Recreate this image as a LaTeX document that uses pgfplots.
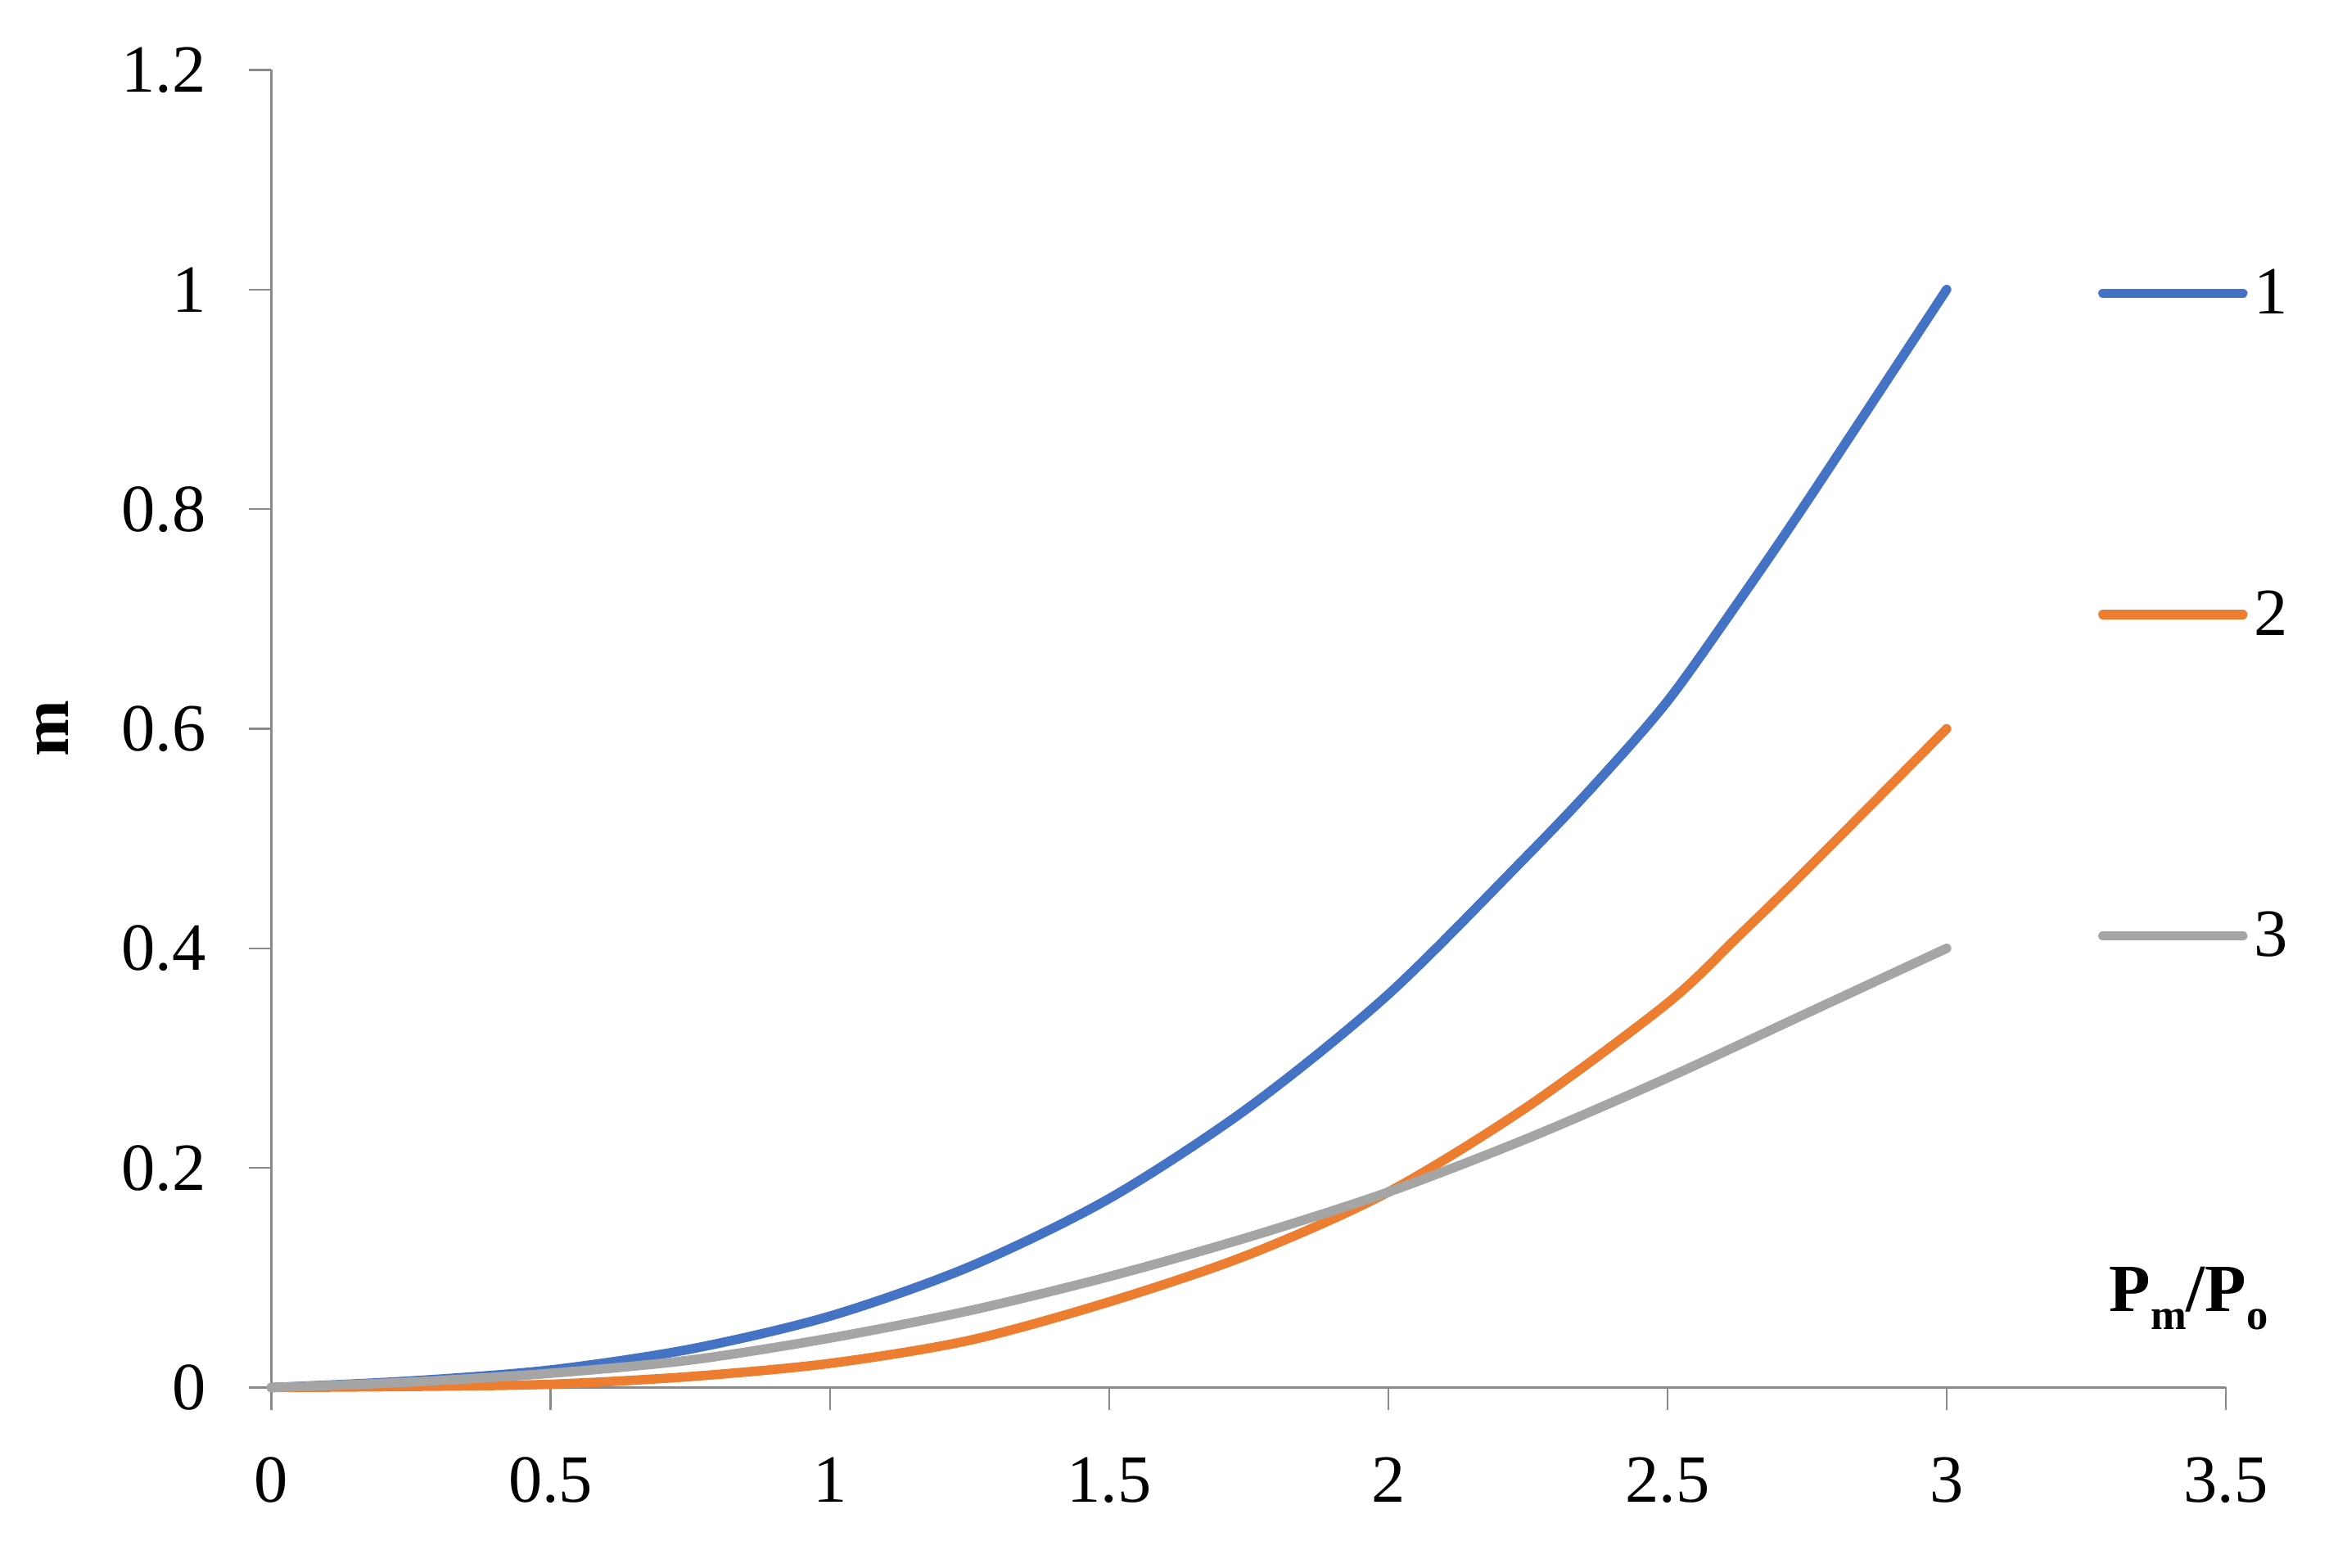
\documentclass[border=0pt]{standalone}
\usepackage{fontspec}
\setmainfont{Liberation Serif}
\usepackage{pgfplots}
\pgfplotsset{compat=1.18}
\definecolor{cblue}{HTML}{4472C4}
\definecolor{corange}{HTML}{ED7D31}
\definecolor{cgray}{HTML}{A5A5A5}
\definecolor{axgray}{HTML}{898989}
\pgfplotstableread{
x y
0 0
0.25 0.006
0.5 0.016
0.75 0.035
1 0.065
1.25 0.110
1.5 0.172
1.75 0.255
2 0.358
2.25 0.485
2.375 0.552
2.5 0.625
2.625 0.714
2.75 0.807
3 1.0
}\seriesA
\pgfplotstableread{
x y
0 0
0.25 0.001
0.5 0.003
0.75 0.010
1 0.022
1.25 0.043
1.5 0.078
1.75 0.121
2 0.178
2.25 0.256
2.5 0.350
2.625 0.410
2.75 0.472
3 0.6
}\seriesB
\pgfplotstableread{
x y
0 0
0.25 0.005
0.5 0.013
0.75 0.025
1 0.045
1.25 0.070
1.5 0.101
1.75 0.137
2 0.178
2.25 0.227
2.5 0.282
2.75 0.341
3 0.4
}\seriesC
\begin{document}
\begin{tikzpicture}
\path[use as bounding box] (-66.3pt,-44pt) rectangle (504.9pt,339.1pt);
\begin{axis}[
  at={(0pt,0pt)}, anchor=south west,
  scale only axis, width=477.5pt, height=322pt,
  xmin=0, xmax=3.5, ymin=0, ymax=1.2,
  clip=false,
  axis x line*=bottom, axis y line*=left,
  axis line style={axgray, line width=0.6pt, -},
  xtick={0,0.5,1,1.5,2,2.5,3,3.5},
  xticklabels={0,0.5,1,1.5,2,2.5,3,3.5},
  ytick={0,0.2,0.4,0.6,0.8,1,1.2},
  yticklabels={0,0.2,0.4,0.6,0.8,1,1.2},
  tick align=outside, tick pos=left,
  major tick length=5.5pt,
  tick style={axgray, line width=0.45pt},
  every tick label/.append style={font=\fontsize{16.5}{19}\selectfont, black},
  xticklabel style={yshift=-8pt},
  yticklabel style={xshift=-7pt},
  xlabel={\textbf{P\raisebox{-4.4pt}{\fontsize{10.5}{12}\selectfont m}/P\raisebox{-4.4pt}{\fontsize{10.5}{12}\selectfont o}}},
  xlabel style={at={(axis description cs:0.981,0.058)}, anchor=base, font=\fontsize{16.5}{19}\selectfont},
  ylabel={\textbf{m}},
  ylabel style={at={(axis description cs:-0.112,0.5)}, anchor=center, rotate=0, font=\fontsize{16.5}{19}\selectfont},
  legend style={draw=none, fill=none, inner sep=0pt, outer sep=0pt,
    at={(axis description cs:0.9347,0.5857)}, anchor=west,
    row sep=66.1pt, column sep=1.5pt,
    font=\fontsize{16.5}{19}\selectfont,
    nodes={inner sep=0pt}},
  legend cell align=left,
  legend image code/.code={\draw[#1, line cap=round] (0pt,0.3pt) -- (34.2pt,0.3pt);},
  every axis plot/.append style={line width=2.3pt, line cap=round, line join=round},
]
\addplot[cblue, smooth, no markers] table[x=x,y=y] {\seriesA};
\addlegendentry{1}
\addplot[corange, smooth, no markers] table[x=x,y=y] {\seriesB};
\addlegendentry{2}
\addplot[cgray, smooth, no markers] table[x=x,y=y] {\seriesC};
\addlegendentry{3}
\end{axis}
\end{tikzpicture}
\end{document}
